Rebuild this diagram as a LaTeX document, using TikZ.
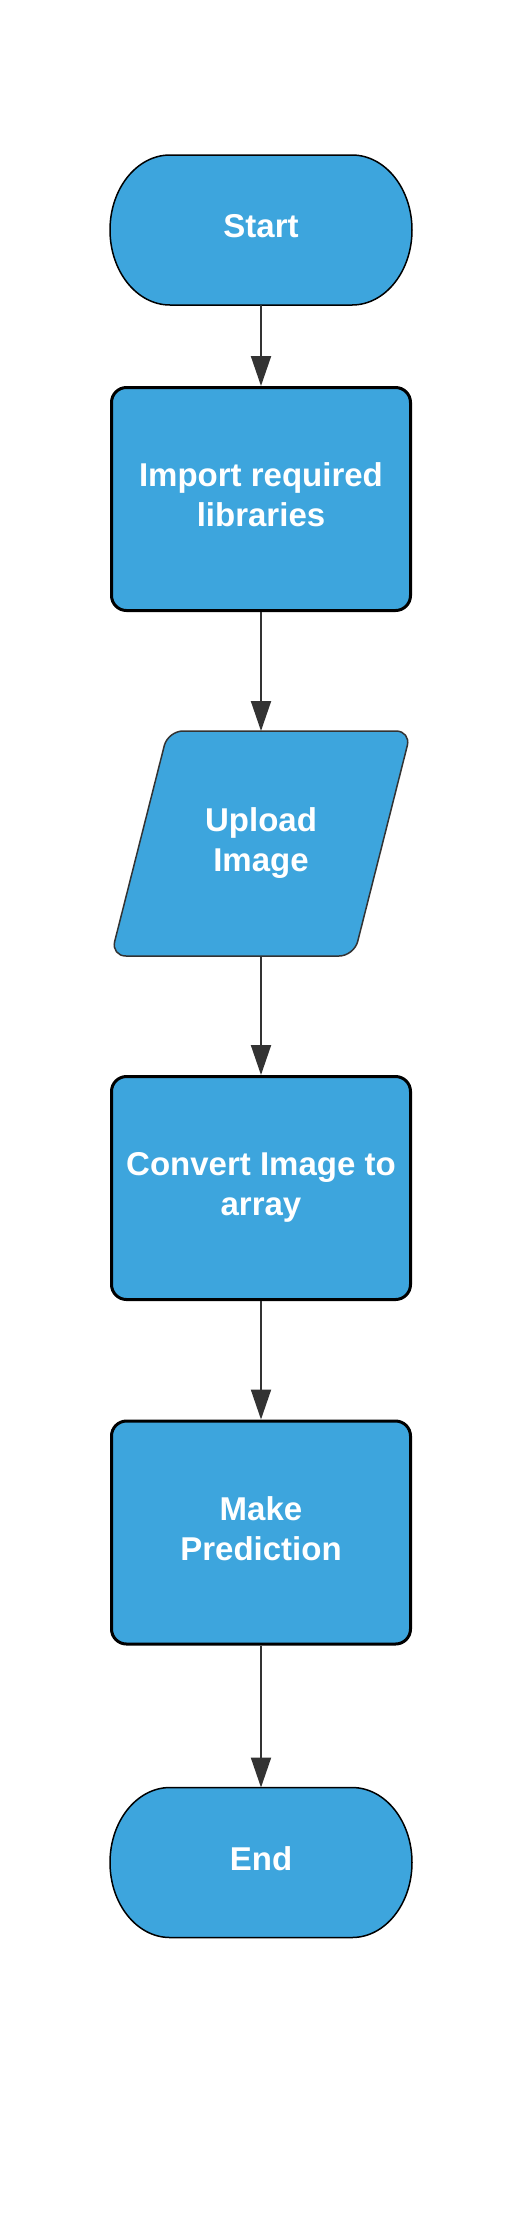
\documentclass[tikz,border=0pt]{standalone}
\usepackage{fontspec}
\setmainfont{Liberation Sans}
\usetikzlibrary{arrows.meta}

\definecolor{FlowBlue}{RGB}{61,165,221}
\definecolor{LineGray}{RGB}{51,51,51}

\newcommand{\drawterminal}[2]{% Parameters: center x, center y
  \draw[draw=black,line width=1.5pt,fill=FlowBlue] (#1-91,#2+75) -- (#1+91,#2+75)
  arc[start angle=90,end angle=-90,x radius=60,y radius=75] -- (#1-91,#2-75)
  arc[start angle=270,end angle=90,x radius=60,y radius=75] -- cycle;
}
\newcommand{\drawio}[2]{% Parameters: center x, center y
  \draw[draw=LineGray,line width=1.5pt,fill=FlowBlue,rounded corners=15pt] (#1,#2+112.5)
  -- (#1+150,#2+112.5) -- (#1+93,#2-112.5) -- (#1-150,#2-112.5) -- (#1-93,#2+112.5) -- cycle;
}

\tikzset{
  label/.style={text=white,font=\bfseries\fontsize{33}{40}\selectfont,align=center,
    text depth=8pt},
  flat/.style={label,rectangle,outer sep=0pt},
  procbox/.style={label,rectangle,draw=black,line width=3pt,fill=FlowBlue,
    rounded corners=15pt,minimum width=299pt,minimum height=223pt},
  flowarrow/.style={draw=LineGray,line width=2pt,-{Triangle[width=20pt,length=30pt]}}
}

\begin{document}
\begin{tikzpicture}[x=1pt,y=1pt]
  \fill[white] (0,0) rectangle (508,-2220);
  \useasboundingbox (0,0) rectangle (508,-2220);

  \drawterminal{261}{-230}
  \node[flat,minimum width=302pt,minimum height=150pt] (start) at (261,-230) {Start};

  \node[procbox] (import) at (261,-499) {Import required\\libraries};

  \drawio{261}{-843.5}
  \node[flat,minimum width=243pt,minimum height=225pt] (upload) at (261,-843.5) {Upload\\Image};

  \node[procbox] (convert) at (261,-1188) {Convert Image to\\array};

  \node[procbox] (predict) at (261,-1532.5) {Make\\Prediction};

  \drawterminal{261}{-1862.5}
  \node[flat,minimum width=302pt,minimum height=150pt] (end) at (261,-1862.5) {End};

  \draw[flowarrow] (start) -- (import);
  \draw[flowarrow] (import) -- (upload);
  \draw[flowarrow] (upload) -- (convert);
  \draw[flowarrow] (convert) -- (predict);
  \draw[flowarrow] (predict) -- (end);
\end{tikzpicture}
\end{document}
